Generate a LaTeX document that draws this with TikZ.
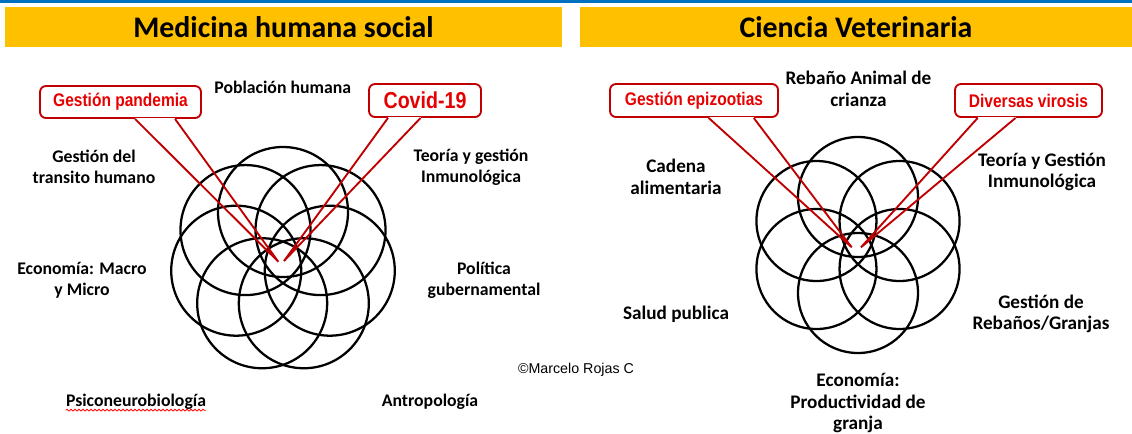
\documentclass[tikz,border=0pt]{standalone}
\usepackage{fontspec}
\setmainfont{Carlito}
\newfontfamily\calfont[FakeStretch=0.85]{Liberation Sans}
\newfontfamily\arialfont{Liberation Sans}
\usetikzlibrary{decorations.pathmorphing}
\definecolor{ttlyellow}{HTML}{FFC000}
\definecolor{barblue}{HTML}{0070C0}
\definecolor{boxred}{HTML}{C00000}
\definecolor{txtred}{HTML}{E60000}
\begin{document}
\begin{tikzpicture}[x=0.75pt,y=-0.75pt,
  lbl/.style={font=\bfseries\fontsize{13.3pt}{15.75pt}\selectfont, align=center, inner sep=0pt},
  lblr/.style={font=\bfseries\fontsize{14.4pt}{16.2pt}\selectfont, align=center, inner sep=0pt},
  ring/.style={draw=black, line width=1.7pt},
  callbox/.style={draw=boxred, line width=1.4pt, rounded corners=4.5pt, text=txtred,
    font=\calfont\bfseries\fontsize{13.7pt}{16pt}\selectfont, inner sep=0pt},
  tail/.style={draw=boxred, line width=1.4pt, line join=miter},
  gapline/.style={draw=white, line width=1.9pt},
  ttl/.style={fill=ttlyellow, inner sep=0pt, font=\bfseries\fontsize{22.4pt}{26pt}\selectfont},
  spell/.style={draw=red, line width=0.6pt, decorate, decoration={snake, amplitude=0.7pt, segment length=3pt}}
]
\useasboundingbox (0,0) rectangle (1132,433);
\fill[barblue] (0,0) rectangle (1132,3);

% titles
\node[ttl, minimum width=417.75pt, minimum height=30pt] (t1) at (283.5,27) {Medicina humana social};
\node[ttl, minimum width=414pt, minimum height=30pt] (t2) at (856,27) {Ciencia Veterinaria};

% left rosette (7 circles, one on top)
\foreach \k in {0,...,6}
  \draw[ring] (283,260) ++({-90-\k*360/7}:48) circle[radius=48.75pt];
% right rosette (6 circles)
\foreach \k in {0,...,5}
  \draw[ring] (858,245) ++({90+\k*60}:48) circle[radius=45pt];

% labels left
\node[lbl] (pob) at (282.7,87) {Población humana};
\node[lbl] (gdt) at (94,167) {Gestión del\\transito humano};
\node[lbl] (tgi) at (471,167) {Teoría y gestión\\Inmunológica};
\node[lbl] (eco) at (82,280.5) {Economía: Macro\\y Micro};
\node[lbl] (pol) at (484,280.5) {Política\\gubernamental};
\node[lbl] (psi) at (136,402) {Psiconeurobiología};
\node[lbl] (ant) at (430,402) {Antropología};
\draw[spell] ([yshift=-2.6pt]psi.base west) -- ([yshift=-2.6pt]psi.base east);
\node[inner sep=0pt, font=\arialfont\fontsize{10.7pt}{12pt}\selectfont] (cp) at (576,370) {©Marcelo Rojas C};

% labels right
\node[lblr] (reb) at (858.4,89) {Rebaño Animal de\\crianza};
\node[lblr] (cad) at (676,177) {Cadena\\alimentaria};
\node[lblr] (tgr) at (1042,172) {Teoría y Gestión\\Inmunológica};
\node[lblr] (sal) at (676,314) {Salud publica};
\node[lblr] (ges) at (1041,314) {Gestión de\\Rebaños/Granjas};
\node[lblr] (ecr) at (858,403) {Economía:\\Productividad de\\granja};

% callouts
\node[callbox, minimum width=120.75pt, minimum height=24pt] (gp) at (120.5,102) {Gestión pandemia};
\node[callbox, minimum width=84pt, minimum height=24.75pt, font=\calfont\bfseries\fontsize{17.3pt}{20pt}\selectfont] (cv) at (425,100.5) {Covid-19};
\node[callbox, minimum width=126pt, minimum height=24.75pt] (ge) at (694,100.5) {Gestión epizootias};
\node[callbox, minimum width=110.25pt, minimum height=24.75pt] (dv) at (1028.5,100.5) {Diversas virosis};

\coordinate (gpt) at (278.3,261.7);
\coordinate (cvt) at (284,261);
\coordinate (get) at (851.7,247.3);
\coordinate (dvt) at (861,247.3);

\draw[gapline] ([xshift=10.9pt]gp.south) -- ([xshift=40.9pt]gp.south);
\draw[tail] ([xshift=10.9pt]gp.south) -- (gpt) -- ([xshift=40.9pt]gp.south);
\draw[gapline] ([xshift=-27.75pt]cv.south) -- ([xshift=-3.3pt]cv.south);
\draw[tail] ([xshift=-27.75pt]cv.south) -- (cvt) -- ([xshift=-3.3pt]cv.south);
\draw[gapline] ([xshift=11pt]ge.south) -- ([xshift=44.8pt]ge.south);
\draw[tail] ([xshift=11pt]ge.south) -- (get) -- ([xshift=44.8pt]ge.south);
\draw[gapline] ([xshift=-38.1pt]dv.south) -- ([xshift=-9.7pt]dv.south);
\draw[tail] ([xshift=-38.1pt]dv.south) -- (dvt) -- ([xshift=-9.7pt]dv.south);
\end{tikzpicture}
\end{document}
